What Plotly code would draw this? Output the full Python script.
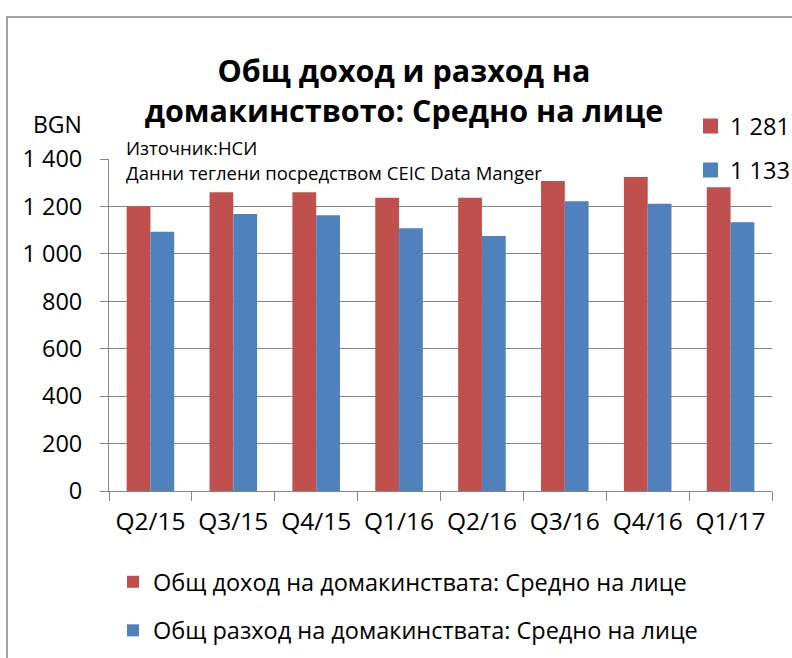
import plotly.graph_objects as go

categories = ["Q2/15", "Q3/15", "Q4/15", "Q1/16", "Q2/16", "Q3/16", "Q4/16", "Q1/17"]
income = [1200, 1260, 1260, 1237, 1237, 1307, 1324, 1281]
expense = [1093, 1168, 1163, 1108, 1075, 1222, 1211, 1133]
income_name = "Общ доход на домакинствата: Средно на лице"
expense_name = "Общ разход на домакинствата: Средно на лице"
title_text = "Общ доход и разход на<br>домакинството: Средно на лице"
source_text = "Източник:НСИ"
note_text = "Данни теглени посредством CEIC Data Manger"
unit_text = "BGN"

RED = "#C0504D"
BLUE = "#4F81BD"
FONT = "Open Sans"

W, H = 792, 658
L, R, T, B = 109, 20, 159, 167
pw, ph = W - L - R, H - T - B

def px(x):
    return (x - L) / pw

def py(y):
    return (H - B - y) / ph

def fmt(v):
    return f"{v:,}".replace(",", " ")

fig = go.Figure()
fig.add_trace(go.Bar(x=categories, y=income, name=income_name, marker_color=RED,
                     marker_line_width=0, legendgroup="a"))
fig.add_trace(go.Bar(x=categories, y=expense, name=expense_name, marker_color=BLUE,
                     marker_line_width=0, legendgroup="b"))

fig.update_layout(
    width=W, height=H,
    margin=dict(l=L, r=R, t=T, b=B, autoexpand=False),
    paper_bgcolor="white", plot_bgcolor="white",
    font=dict(family=FONT, color="#000000", size=24),
    separators=". ",
    barmode="group", bargap=0.426, bargroupgap=0,
    title=dict(text=title_text, x=404 / W, xanchor="center", xref="container",
               y=1 - 82 / H, yanchor="middle", yref="container", automargin=False,
               font=dict(family=FONT, size=30.5, color="#000", weight="bold")),
    showlegend=True,
    legend=dict(x=px(113), y=py(560), xanchor="left", yanchor="top",
                orientation="v", tracegroupgap=15, font=dict(size=23.5),
                bgcolor="rgba(0,0,0,0)", itemwidth=30),
)
fig.update_xaxes(showline=True, linecolor="#868686", linewidth=1, automargin=False,
                 ticks="outside", ticklen=9, tickcolor="#868686", tickson="boundaries",
                 showgrid=False, tickfont=dict(size=24.5), ticklabelstandoff=9)
fig.update_yaxes(range=[0, 1400], dtick=200, tick0=0, showline=True, linecolor="#868686",
                 linewidth=1, ticks="outside", ticklen=8, tickcolor="#868686",
                 showgrid=True, gridcolor="#868686", gridwidth=1, automargin=False,
                 separatethousands=True, tickfont=dict(size=23.5), zeroline=False,
                 ticklabelstandoff=13)

# outer frame
fig.add_shape(type="rect", xref="paper", yref="paper",
              x0=px(7), x1=px(820), y0=py(700), y1=py(17),
              line=dict(color="#868686", width=1.5), fillcolor="rgba(0,0,0,0)", layer="below")

fig.add_annotation(text=unit_text, xref="paper", yref="paper", x=px(57), y=py(124),
                   xanchor="center", yanchor="middle", showarrow=False, font=dict(size=23))
fig.add_annotation(text=source_text, xref="paper", yref="paper", x=px(124), y=py(147),
                   xanchor="left", yanchor="middle", showarrow=False, font=dict(size=18.5))
fig.add_annotation(text=note_text, xref="paper", yref="paper", x=px(124), y=py(172),
                   xanchor="left", yanchor="middle", showarrow=False, font=dict(size=18.5))

# top-right value keys
for yc, col, val in [(126, RED, income[-1]), (170, BLUE, expense[-1])]:
    fig.add_shape(type="rect", xref="paper", yref="paper",
                  x0=px(703), x1=px(718), y0=py(yc + 7.5), y1=py(yc - 7.5),
                  fillcolor=col, line=dict(width=0))
    fig.add_annotation(text=fmt(val), xref="paper", yref="paper", x=px(728), y=py(yc),
                       xanchor="left", yanchor="middle", showarrow=False, font=dict(size=23.5))

fig.write_html("out.html", config={"displayModeBar": False},
               post_script="document.body.style.margin='0';document.body.style.padding='0';")
